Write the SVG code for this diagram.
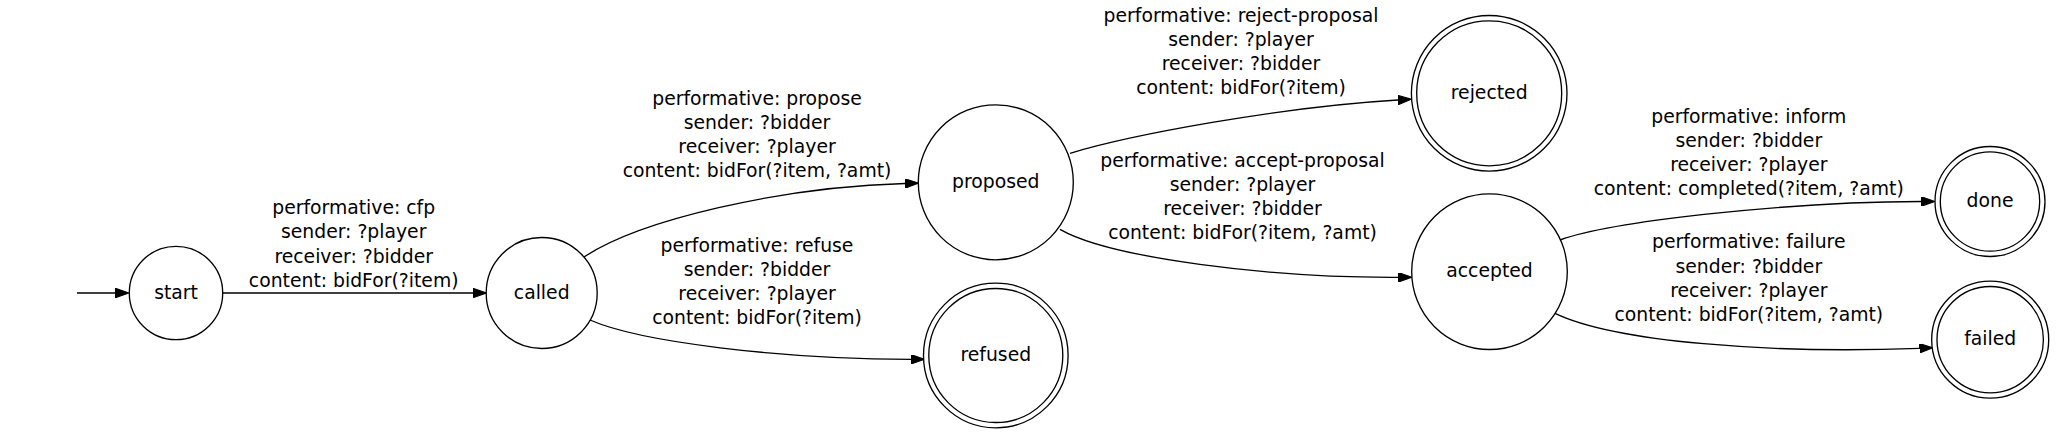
<svg xmlns="http://www.w3.org/2000/svg" width="2056" height="433" viewBox="0 0 2056 433">
<style>
  .n { fill: #fff; stroke: #000; stroke-width: 1.33; }
  .e { fill: none; stroke: #000; stroke-width: 1.33; }
  text { font-family: "DejaVu Sans", "Liberation Sans", sans-serif; font-size: 18.8px; fill: #000; text-anchor: middle; }
</style>
<defs>
  <marker id="ah" markerUnits="userSpaceOnUse" viewBox="0 0 10 7" refX="0" refY="3.5" markerWidth="13.5" markerHeight="9.4" orient="auto">
    <path d="M0,0 L10,3.5 L0,7 z" fill="#000" stroke="#000" stroke-width="0.8"/>
  </marker>
</defs>
<rect width="2056" height="433" fill="#fff"/>
<g id="connectors">
  <path class="e" d="M77,293 L115.5,293" marker-end="url(#ah)"/>
  <path class="e" d="M223,293 L473,293" marker-end="url(#ah)"/>
  <path class="e" d="M584,257 C640,220 780,187 905,183.5" marker-end="url(#ah)"/>
  <path class="e" d="M590,320 C640,342 780,359 911,359.3" marker-end="url(#ah)"/>
  <path class="e" d="M1070,153.3 C1130,135 1280,107 1398,100" marker-end="url(#ah)"/>
  <path class="e" d="M1060,229.3 C1110,258 1270,278 1398.5,277.3" marker-end="url(#ah)"/>
  <path class="e" d="M1560,240 C1610,222 1780,202 1921.5,201.5" marker-end="url(#ah)"/>
  <path class="e" d="M1555,313.3 C1615,342 1770,354 1919.5,348.3" marker-end="url(#ah)"/>
</g>
<g id="label-cfp">
  <text><tspan x="353.7" y="214">performative: cfp</tspan><tspan x="353.7" y="238.3">sender: ?player</tspan><tspan x="353.7" y="262.7">receiver: ?bidder</tspan><tspan x="353.7" y="287">content: bidFor(?item)</tspan></text>
</g>
<g id="label-propose">
  <text><tspan x="757" y="105">performative: propose</tspan><tspan x="757" y="129.3">sender: ?bidder</tspan><tspan x="757" y="153.3">receiver: ?player</tspan><tspan x="757" y="177.3">content: bidFor(?item, ?amt)</tspan></text>
</g>
<g id="label-refuse">
  <text><tspan x="757" y="251.7">performative: refuse</tspan><tspan x="757" y="275.7">sender: ?bidder</tspan><tspan x="757" y="300">receiver: ?player</tspan><tspan x="757" y="324">content: bidFor(?item)</tspan></text>
</g>
<g id="label-reject">
  <text><tspan x="1241" y="21.5">performative: reject-proposal</tspan><tspan x="1241" y="45.5">sender: ?player</tspan><tspan x="1241" y="69.5">receiver: ?bidder</tspan><tspan x="1241" y="93.5">content: bidFor(?item)</tspan></text>
</g>
<g id="label-accept">
  <text><tspan x="1242.5" y="167">performative: accept-proposal</tspan><tspan x="1242.5" y="191.3">sender: ?player</tspan><tspan x="1242.5" y="215">receiver: ?bidder</tspan><tspan x="1242.5" y="238.8">content: bidFor(?item, ?amt)</tspan></text>
</g>
<g id="label-inform">
  <text><tspan x="1748.8" y="123.3">performative: inform</tspan><tspan x="1748.8" y="147">sender: ?bidder</tspan><tspan x="1748.8" y="171">receiver: ?player</tspan><tspan x="1748.8" y="195">content: completed(?item, ?amt)</tspan></text>
</g>
<g id="label-failure">
  <text><tspan x="1748.8" y="248.3">performative: failure</tspan><tspan x="1748.8" y="272.5">sender: ?bidder</tspan><tspan x="1748.8" y="296.7">receiver: ?player</tspan><tspan x="1748.8" y="320.7">content: bidFor(?item, ?amt)</tspan></text>
</g>
<g id="start">
  <circle class="n" cx="176" cy="293" r="46.7"/>
  <text x="176" y="298.6">start</text>
</g>
<g id="called">
  <circle class="n" cx="541.7" cy="293" r="55.5"/>
  <text x="541.7" y="298.6">called</text>
</g>
<g id="proposed">
  <circle class="n" cx="995.8" cy="182.3" r="77.5"/>
  <text x="995.8" y="187.9">proposed</text>
</g>
<g id="refused">
  <circle class="n" cx="995.8" cy="355.5" r="72.3"/>
  <circle class="n" cx="995.8" cy="355.5" r="67"/>
  <text x="995.8" y="361.1">refused</text>
</g>
<g id="rejected">
  <circle class="n" cx="1489.2" cy="93.3" r="77.8"/>
  <circle class="n" cx="1489.2" cy="93.3" r="72.5"/>
  <text x="1489.2" y="98.9">rejected</text>
</g>
<g id="accepted">
  <circle class="n" cx="1489.5" cy="271.7" r="77.8"/>
  <text x="1489.5" y="277.3">accepted</text>
</g>
<g id="done">
  <circle class="n" cx="1990" cy="201.5" r="55"/>
  <circle class="n" cx="1990" cy="201.5" r="49.7"/>
  <text x="1990" y="207.1">done</text>
</g>
<g id="failed">
  <circle class="n" cx="1990.2" cy="339.7" r="58.5"/>
  <circle class="n" cx="1990.2" cy="339.7" r="53.2"/>
  <text x="1990.2" y="345.3">failed</text>
</g>
</svg>
